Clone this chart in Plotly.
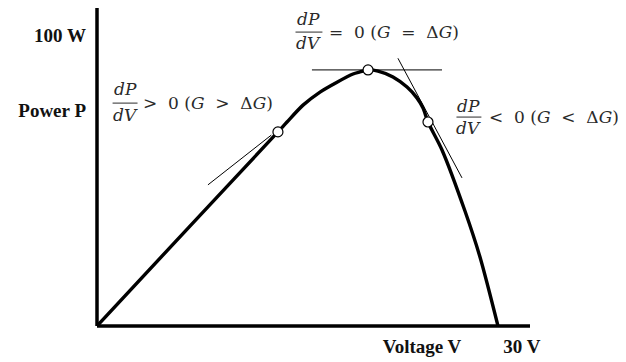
import plotly.graph_objects as go

# P-V curve of the panel (volts, watts)
volts = [0, 6.38, 12.77, 13.41, 14.54, 15.74, 16.94, 18.07, 18.56, 19.13,
         19.83, 20.89, 21.88, 22.58, 23.01, 23.36, 24.35, 25.97, 27.03, 28.30]
watts = [0, 33.4, 66.7, 70.1, 75.9, 80.4, 83.8, 86.6, 87.3, 88.0,
         87.6, 85.6, 82.1, 78.4, 74.9, 70.1, 60.5, 39.5, 23.7, 0]

# operating points marked with a circle
mark_v = [12.77, 19.13, 23.36]
mark_p = [66.7, 88.0, 70.1]

# tangent segments at the three points
tan_left_v, tan_left_p = [7.83, 12.30], [48.5, 65.6]
tan_top_v, tan_top_p = [15.17, 24.35], [88.0, 88.0]
tan_right_v, tan_right_p = [21.24, 25.76], [92.0, 50.9]

# axis labels
y_tickvals = [100, 74.2]
y_ticktext = ["100 W", "Power P"]
x_tickvals = [22.94, 29.99]
x_ticktext = ["Voltage V", "30 V"]

V_AXIS_END = 30.56
P_AXIS_END = 110.3
X_MAX = 37.9
Y_MAX = 109.28

MATH_FONT = "DejaVu Serif"
LABEL_FONT = "Liberation Serif"
TXT = "#2a2a2a"

fig = go.Figure()

# tangents (thin)
for tv, tp in [(tan_left_v, tan_left_p), (tan_top_v, tan_top_p),
               (tan_right_v, tan_right_p)]:
    fig.add_trace(go.Scatter(x=tv, y=tp, mode="lines",
                             line=dict(color="black", width=1),
                             hoverinfo="skip"))

# the curve
fig.add_trace(go.Scatter(x=volts, y=watts, mode="lines",
                         line=dict(color="black", width=3.4, shape="spline",
                                   smoothing=0.8),
                         hoverinfo="skip"))

# open circles
fig.add_trace(go.Scatter(x=mark_v, y=mark_p, mode="markers",
                         marker=dict(size=10, color="white",
                                     line=dict(color="black", width=1.2)),
                         hoverinfo="skip"))

# axes drawn as thick lines (paper refs so they are not clipped)
fig.add_shape(type="line", xref="paper", yref="paper",
              x0=0, y0=0, x1=0, y1=P_AXIS_END / Y_MAX,
              line=dict(color="black", width=3.5))
fig.add_shape(type="line", xref="paper", yref="paper",
              x0=0, y0=0, x1=V_AXIS_END / X_MAX, y1=0,
              line=dict(color="black", width=3.5))

# dP/dV labels: (fraction centre, dP y, bar y, dV y, bar half width, text x, rest)
labels = [
    (1.98, 81.4, 76.6, 72.5, 0.88, 3.11,
     "&gt;&nbsp; 0 (<i>G</i>&nbsp; &gt;&nbsp; Δ<i>G</i>)"),
    (14.96, 105.5, 101.0, 97.3, 0.95, 16.23,
     "=&nbsp; 0 (<i>G</i>&nbsp; =&nbsp; Δ<i>G</i>)"),
    (26.25, 75.6, 71.8, 68.0, 0.88, 27.52,
     "&lt;&nbsp; 0 (<i>G</i>&nbsp; &lt;&nbsp; Δ<i>G</i>)"),
]
for cx, yp, yb, yv, hw, tx, rest in labels:
    fig.add_annotation(x=cx, y=yp, text="<i>dP</i>", showarrow=False,
                       xanchor="center", yanchor="middle",
                       font=dict(family=MATH_FONT, size=17, color=TXT))
    fig.add_annotation(x=cx, y=yv, text="<i>dV</i>", showarrow=False,
                       xanchor="center", yanchor="middle",
                       font=dict(family=MATH_FONT, size=17, color=TXT))
    fig.add_shape(type="line", x0=cx - hw, x1=cx + hw, y0=yb, y1=yb,
                  line=dict(color=TXT, width=1))
    fig.add_annotation(x=tx, y=yb, text=rest, showarrow=False,
                       xanchor="left", yanchor="middle",
                       font=dict(family=MATH_FONT, size=17, color=TXT))

# the page adds an 8px body margin, so the plot area starts 8px earlier
fig.update_layout(
    width=626, height=362,
    margin=dict(l=89, r=0, t=0, b=44),
    plot_bgcolor="white", paper_bgcolor="white",
    showlegend=False,
    xaxis=dict(range=[0, X_MAX], showgrid=False, zeroline=False,
               showline=False, tickvals=x_tickvals, ticktext=x_ticktext,
               ticks="", ticklabelstandoff=7, automargin=False,
               tickfont=dict(family=LABEL_FONT, size=19, color="#111",
                             weight="bold")),
    yaxis=dict(range=[0, Y_MAX], showgrid=False, zeroline=False,
               showline=False, tickvals=y_tickvals, ticktext=y_ticktext,
               ticks="", ticklabelstandoff=10, automargin=False,
               tickfont=dict(family=LABEL_FONT, size=19, color="#111",
                             weight="bold")),
)

fig.write_html("out.html")
